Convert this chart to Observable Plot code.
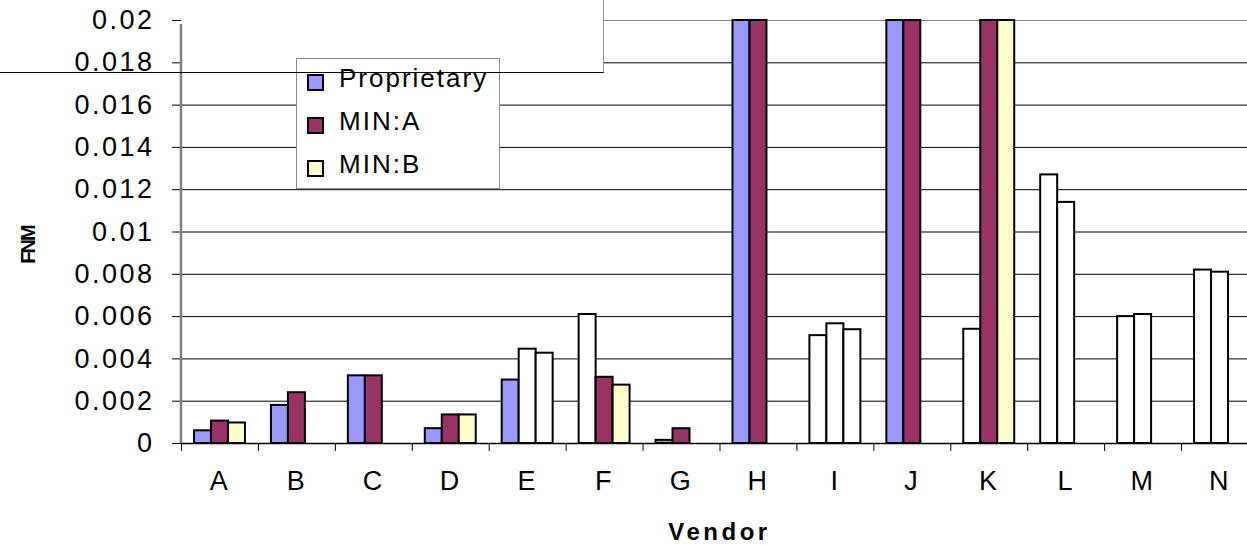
<!DOCTYPE html>
<html>
<head>
<meta charset="utf-8">
<script src="https://cdn.jsdelivr.net/npm/d3@7"></script>
<script src="https://cdn.jsdelivr.net/npm/@observablehq/plot@0.6"></script>
<style>
  html, body { margin: 0; padding: 0; background: #fff; overflow: hidden; }
  #wrap { position: relative; width: 1258px; height: 545px; overflow: hidden; }
  .layer { position: absolute; left: 0; top: 0; }
  #boxfill { position: absolute; left: 0; top: 0; width: 604px; height: 72px; background: #fff; }
  #boxborder { position: absolute; left: 0; top: 0; width: 603px; height: 72px; border-right: 1px solid #8c8c8c; border-bottom: 1px solid #000; pointer-events: none; }
  #legend { position: absolute; left: 296px; top: 58px; width: 202px; height: 129px; border: 1px solid #8c8c8c; background: #fff;
            font-family: "Liberation Sans", Arial, sans-serif; font-size: 26px; letter-spacing: 2px; color: #000; }
  .sw { position: absolute; left: 10px; width: 17px; height: 17px; box-sizing: border-box; border: 2px solid #000; }
  .lt { position: absolute; left: 42px; line-height: 30px; white-space: nowrap; }
  #ylab { position: absolute; left: 28px; top: 245px; transform: translate(-50%, -50%) rotate(-90deg);
          font-family: "Liberation Sans", Arial, sans-serif; font-weight: bold; font-size: 20px; letter-spacing: -2px; white-space: nowrap; }
</style>
</head>
<body>
<div id="wrap"></div>
<script>
// ---- data ----
const vendors = ["A","B","C","D","E","F","G","H","I","J","K","L","M","N"];
const series = ["Proprietary","MIN:A","MIN:B"];
const proprietary = [0.0006, 0.0018, 0.0032, 0.0007, 0.0030, 0.0061, 0.00015, 0.02, 0.0051, 0.02, 0.0054, 0.0127, 0.0060, 0.0082];
const minA        = [0.00106, 0.0024, 0.0032, 0.00135, 0.00446, 0.00313, 0.0007, 0.02, 0.00566, 0.02, 0.02, 0.0114, 0.0061, 0.0081];
const minB        = [0.00097, null, null, 0.00135, 0.00427, 0.00276, null, null, 0.00538, null, 0.02, null, null, null];
// bars drawn without fill in the original
const unshaded = {
  "Proprietary": ["F","I","K","L","M","N"],
  "MIN:A": ["E","I","L","M","N"],
  "MIN:B": ["E","I"]
};
const yTicks = [0, 0.002, 0.004, 0.006, 0.008, 0.01, 0.012, 0.014, 0.016, 0.018, 0.02];
const seriesColors = ["#9999FF", "#993366", "#FFFFCC"];
const yLabel = "FNM";
const xLabel = "Vendor";

// ---- build table ----
const valuesBySeries = [proprietary, minA, minB];
const rows = [];
series.forEach((s, si) => {
  vendors.forEach((v, vi) => {
    const val = valuesBySeries[si][vi];
    if (val != null) rows.push({vendor: v, series: s, value: val,
      fill: unshaded[s].includes(v) ? "#FFFFFF" : seriesColors[si]});
  });
});

const W = 1258, H = 545, ML = 181, MR = 0, MT = 20, MB = 102;
const step = (W - ML - MR) / vendors.length;
const font = "'Liberation Sans', Arial, sans-serif";
const wrap = document.getElementById("wrap");

// layer 1: gridlines
const grid = Plot.plot({
  width: W, height: H, marginLeft: ML, marginRight: MR, marginTop: MT, marginBottom: MB,
  style: {background: "transparent", maxWidth: "none"},
  y: {domain: [0, 0.02], axis: null},
  color: {type: "identity"},
  marks: [
    Plot.ruleY(yTicks.filter(d => d > 0), {stroke: d => d === 0.02 ? "#808080" : "#000000", strokeWidth: 1})
  ]
});
grid.classList.add("layer");
wrap.appendChild(grid);

// layer 2: white title box fill
const bf = document.createElement("div"); bf.id = "boxfill"; wrap.appendChild(bf);

// layer 3: bars and axes
const chart = Plot.plot({
  width: W, height: H, marginLeft: ML, marginRight: MR, marginTop: MT, marginBottom: MB,
  style: {background: "transparent", maxWidth: "none", fontFamily: font, letterSpacing: "2.5px", color: "#000"},
  fx: {domain: vendors, padding: 0, round: false},
  x: {domain: series, paddingInner: 0, paddingOuter: 0.765, round: false, axis: null},
  y: {domain: [0, 0.02]},
  color: {type: "identity"},
  marks: [
    Plot.barY(rows, {fx: "vendor", x: "series", y: "value", fill: "fill", stroke: "#000", strokeWidth: 2}),
    Plot.ruleY([0], {stroke: "#000", strokeWidth: 1.5}),
    Plot.axisY({anchor: "left", ticks: yTicks, tickSize: 9, tickPadding: 18, fontSize: 27,
                tickFormat: d => String(+d.toFixed(3)), label: null}),
    Plot.axisFx({anchor: "bottom", tickSize: 0, tickPadding: 27, fontSize: 27, label: null}),
    Plot.axisFx({anchor: "bottom", tickSize: 8, dx: -step / 2, tickFormat: () => "", label: null})
  ]
});
chart.classList.add("layer");
wrap.appendChild(chart);

// y axis line and x title, positioned with the chart's scales
const svg = d3.select(chart);
const yS = chart.scale("y");
let x0 = ML, xMid = (ML + W - MR) / 2;
try { const fxS = chart.scale("fx"); x0 = fxS.apply(vendors[0]); xMid = (fxS.range[0] + fxS.range[1]) / 2; } catch (e) {}
svg.append("line")
  .attr("x1", x0).attr("x2", x0)
  .attr("y1", yS.apply(0.02) + 4).attr("y2", yS.apply(0))
  .attr("stroke", "#808080").attr("stroke-width", 2.5);
svg.append("text")
  .attr("x", xMid).attr("y", 540)
  .attr("text-anchor", "middle")
  .attr("font-family", font).attr("font-weight", "bold").attr("font-size", 24)
  .style("letter-spacing", "3.5px")
  .text(xLabel);

// y title
const yl = document.createElement("div"); yl.id = "ylab"; yl.textContent = yLabel; wrap.appendChild(yl);

// legend
const lg = document.createElement("div"); lg.id = "legend";
series.forEach((s, i) => {
  const sw = document.createElement("div"); sw.className = "sw";
  sw.style.top = (15 + i * 43) + "px"; sw.style.background = seriesColors[i];
  const t = document.createElement("div"); t.className = "lt";
  t.style.top = (4 + i * 43) + "px"; t.textContent = s;
  lg.appendChild(sw); lg.appendChild(t);
});
wrap.appendChild(lg);

// title box border on top
const bb = document.createElement("div"); bb.id = "boxborder"; wrap.appendChild(bb);
</script>
</body>
</html>
